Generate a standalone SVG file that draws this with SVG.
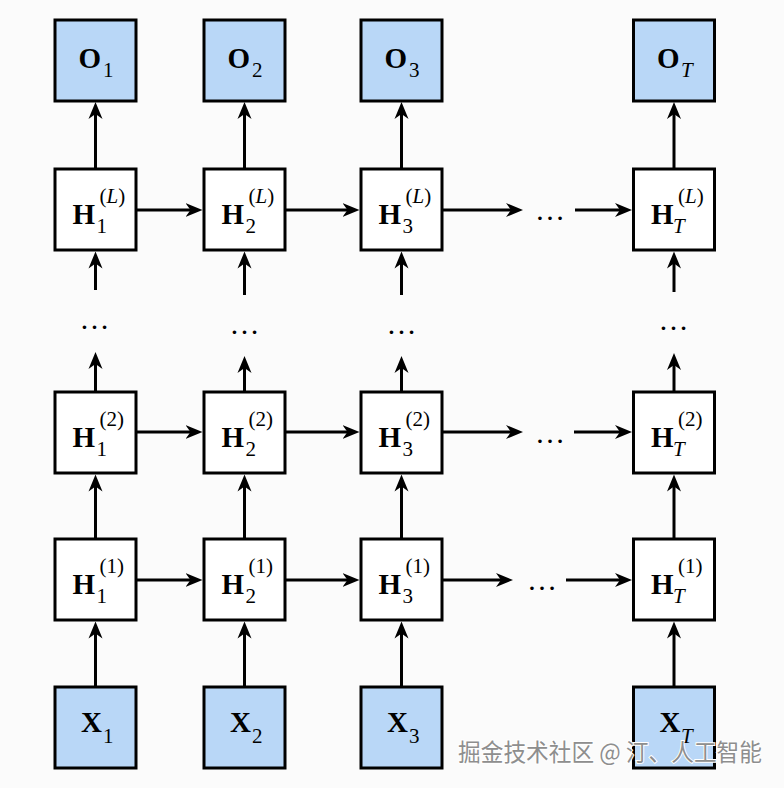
<svg xmlns="http://www.w3.org/2000/svg" width="784" height="788" viewBox="0 0 784 788">
<defs>
<marker id="ah" viewBox="0 -8 20 16" markerWidth="20" markerHeight="16" refX="9" refY="0" orient="auto" markerUnits="userSpaceOnUse">
<path d="M0,-7 L17,0 L0,7 L5,0 Z" fill="#000"/>
</marker>
</defs>
<style>
.box{stroke:#000;stroke-width:3;fill:#fff}
.io{fill:#b9d7f7}
.m{font-family:"Liberation Serif","Times New Roman",serif;font-weight:bold;font-size:29px;fill:#000}
.s{font-family:"Liberation Serif","Times New Roman",serif;font-size:21px;fill:#000}
.i{font-style:italic}
.d{font-family:"Liberation Serif","Times New Roman",serif;font-size:30px;fill:#000;text-anchor:middle}
.c line{stroke:#000;stroke-width:3;marker-end:url(#ah)}
.wm{font-family:"Noto Sans CJK SC","Noto Sans",sans-serif;font-size:24px;fill:#8e8e8e;stroke:#fff;stroke-width:2;paint-order:stroke}
</style>
<rect width="784" height="788" fill="#fbfbfb"/>

<g id="O1"><rect class="box io" x="55" y="20" width="81" height="81"/><text class="m" x="78.5" y="68">O</text><text class="s" x="103" y="77">1</text></g>
<g id="O2"><rect class="box io" x="204" y="20" width="81" height="81"/><text class="m" x="227.5" y="68">O</text><text class="s" x="252" y="77">2</text></g>
<g id="O3"><rect class="box io" x="361" y="20" width="81" height="81"/><text class="m" x="384.5" y="68">O</text><text class="s" x="409" y="77">3</text></g>
<g id="OT"><rect class="box io" x="633.5" y="20" width="81" height="81"/><text class="m" x="657" y="68">O</text><text class="s i" x="681" y="77">T</text></g>

<g id="H1L"><rect class="box" x="55" y="169" width="81" height="81"/><text class="m" x="72.5" y="223.5">H</text><text class="s" x="96.5" y="233">1</text><text class="s" x="99.5" y="202.5">(<tspan class="i">L</tspan>)</text></g>
<g id="H2L"><rect class="box" x="204" y="169" width="81" height="81"/><text class="m" x="221.5" y="223.5">H</text><text class="s" x="245.5" y="233">2</text><text class="s" x="248.5" y="202.5">(<tspan class="i">L</tspan>)</text></g>
<g id="H3L"><rect class="box" x="361" y="169" width="81" height="81"/><text class="m" x="378.5" y="223.5">H</text><text class="s" x="402.5" y="233">3</text><text class="s" x="405.5" y="202.5">(<tspan class="i">L</tspan>)</text></g>
<g id="HTL"><rect class="box" x="633.5" y="169" width="81" height="81"/><text class="m" x="651" y="223.5">H</text><text class="s i" x="673" y="233">T</text><text class="s" x="678" y="202.5">(<tspan class="i">L</tspan>)</text></g>

<g id="H12"><rect class="box" x="55" y="392" width="81" height="81"/><text class="m" x="72.5" y="446.5">H</text><text class="s" x="96.5" y="456">1</text><text class="s" x="99.5" y="425.5">(2)</text></g>
<g id="H22"><rect class="box" x="204" y="392" width="81" height="81"/><text class="m" x="221.5" y="446.5">H</text><text class="s" x="245.5" y="456">2</text><text class="s" x="248.5" y="425.5">(2)</text></g>
<g id="H32"><rect class="box" x="361" y="392" width="81" height="81"/><text class="m" x="378.5" y="446.5">H</text><text class="s" x="402.5" y="456">3</text><text class="s" x="405.5" y="425.5">(2)</text></g>
<g id="HT2"><rect class="box" x="633.5" y="392" width="81" height="81"/><text class="m" x="651" y="446.5">H</text><text class="s i" x="673" y="456">T</text><text class="s" x="678" y="425.5">(2)</text></g>

<g id="H11"><rect class="box" x="55" y="539" width="81" height="81"/><text class="m" x="72.5" y="593.5">H</text><text class="s" x="96.5" y="603">1</text><text class="s" x="99.5" y="572.5">(1)</text></g>
<g id="H21"><rect class="box" x="204" y="539" width="81" height="81"/><text class="m" x="221.5" y="593.5">H</text><text class="s" x="245.5" y="603">2</text><text class="s" x="248.5" y="572.5">(1)</text></g>
<g id="H31"><rect class="box" x="361" y="539" width="81" height="81"/><text class="m" x="378.5" y="593.5">H</text><text class="s" x="402.5" y="603">3</text><text class="s" x="405.5" y="572.5">(1)</text></g>
<g id="HT1"><rect class="box" x="633.5" y="539" width="81" height="81"/><text class="m" x="651" y="593.5">H</text><text class="s i" x="673" y="603">T</text><text class="s" x="678" y="572.5">(1)</text></g>

<g id="X1"><rect class="box io" x="55" y="687" width="81" height="81"/><text class="m" x="81" y="732">X</text><text class="s" x="103" y="743">1</text></g>
<g id="X2"><rect class="box io" x="204" y="687" width="81" height="81"/><text class="m" x="230" y="732">X</text><text class="s" x="252" y="743">2</text></g>
<g id="X3"><rect class="box io" x="361" y="687" width="81" height="81"/><text class="m" x="387" y="732">X</text><text class="s" x="409" y="743">3</text></g>
<g id="XT"><rect class="box io" x="633.5" y="687" width="81" height="81"/><text class="m" x="659.5" y="732">X</text><text class="s i" x="681" y="743">T</text></g>

<g id="ellipses">
<text class="d" x="550" y="219.5">…</text>
<text class="d" x="550" y="442.5">…</text>
<text class="d" x="542" y="589.5">…</text>
<text class="d" x="94.5" y="328.5">…</text>
<text class="d" x="244.5" y="333.5">…</text>
<text class="d" x="401.5" y="333.5">…</text>
<text class="d" x="673.5" y="329.5">…</text>
</g>

<g id="connectors" class="c">
<line x1="95.5" y1="169" x2="95.5" y2="110"/>
<line x1="244.5" y1="169" x2="244.5" y2="110"/>
<line x1="401.5" y1="169" x2="401.5" y2="110"/>
<line x1="674" y1="169" x2="674" y2="110"/>

<line x1="95.5" y1="290" x2="95.5" y2="259.5"/>
<line x1="244.5" y1="295" x2="244.5" y2="259.5"/>
<line x1="401.5" y1="295" x2="401.5" y2="259.5"/>
<line x1="674" y1="292" x2="674" y2="259.5"/>

<line x1="95.5" y1="392" x2="95.5" y2="360"/>
<line x1="244.5" y1="392" x2="244.5" y2="364"/>
<line x1="401.5" y1="392" x2="401.5" y2="364"/>
<line x1="674" y1="392" x2="674" y2="361"/>

<line x1="95.5" y1="539" x2="95.5" y2="482.5"/>
<line x1="244.5" y1="539" x2="244.5" y2="482.5"/>
<line x1="401.5" y1="539" x2="401.5" y2="482.5"/>
<line x1="674" y1="539" x2="674" y2="482.5"/>

<line x1="95.5" y1="687" x2="95.5" y2="629.5"/>
<line x1="244.5" y1="687" x2="244.5" y2="629.5"/>
<line x1="401.5" y1="687" x2="401.5" y2="629.5"/>
<line x1="674" y1="687" x2="674" y2="629.5"/>

<line x1="136" y1="210" x2="194.5" y2="210"/>
<line x1="285" y1="210" x2="351.5" y2="210"/>
<line x1="442" y1="210" x2="515" y2="210"/>
<line x1="575" y1="210" x2="624" y2="210"/>

<line x1="136" y1="432" x2="194.5" y2="432"/>
<line x1="285" y1="432" x2="351.5" y2="432"/>
<line x1="442" y1="432" x2="515" y2="432"/>
<line x1="574" y1="432" x2="624" y2="432"/>

<line x1="136" y1="580" x2="194.5" y2="580"/>
<line x1="285" y1="580" x2="351.5" y2="580"/>
<line x1="442" y1="580" x2="505" y2="580"/>
<line x1="566" y1="580" x2="624" y2="580"/>
</g>

<text class="wm" x="458" y="761" textLength="304" lengthAdjust="spacingAndGlyphs">掘金技术社区 @ 汀、人工智能</text>
</svg>
